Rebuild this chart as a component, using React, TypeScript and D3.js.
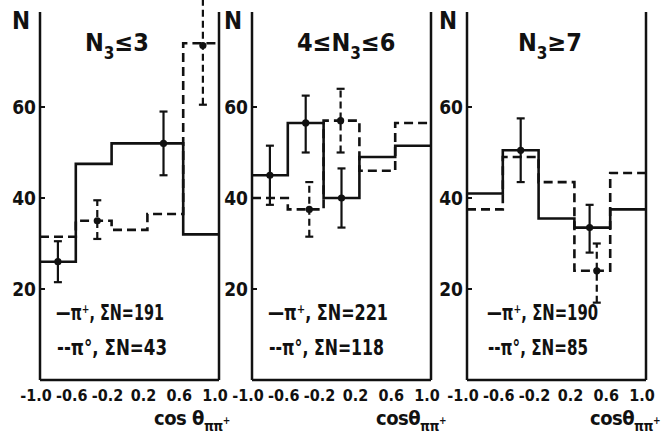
import * as d3 from "d3";

// bin edges of cos(theta) and tick labels
const binEdges = [-1.0, -0.6, -0.2, 0.2, 0.6, 1.0];
const xTickLabels = ["-1.0", "-0.6", "-0.2", "0.2", "0.6", "1.0"];
const yTicks = [20, 40, 60];

// N3 <= 3
const plusCounts1 = [26, 47.5, 52, 52, 32];
const zeroCounts1 = [31.5, 35, 33, 36.5, 74];
const plusErr1 = [
  { x: -0.8, y: 26, lo: 21.5, hi: 30.5 },
  { x: 0.38, y: 52, lo: 45, hi: 59 },
];
const zeroErr1 = [
  { x: -0.36, y: 35, lo: 31, hi: 39.5 },
  { x: 0.82, y: 73.5, lo: 60.5, hi: 84 },
];

// 4 <= N3 <= 6
const plusCounts2 = [45, 56.5, 40, 49, 51.5];
const zeroCounts2 = [40, 37.5, 57, 46, 56.5];
const plusErr2 = [
  { x: -0.8, y: 45, lo: 38.5, hi: 51.5 },
  { x: -0.4, y: 56.5, lo: 50, hi: 62.5 },
  { x: 0.0, y: 40, lo: 33.5, hi: 46.5 },
];
const zeroErr2 = [
  { x: -0.36, y: 37.5, lo: 31.5, hi: 43.5 },
  { x: -0.01, y: 57, lo: 50, hi: 64 },
];

// N3 >= 7
const plusCounts3 = [41, 50.5, 35.5, 33.5, 37.5];
const zeroCounts3 = [37.5, 49, 43.5, 24, 45.5];
const plusErr3 = [
  { x: -0.4, y: 50.5, lo: 43.5, hi: 57.5 },
  { x: 0.37, y: 33.5, lo: 28, hi: 38.5 },
];
const zeroErr3 = [{ x: 0.45, y: 24, lo: 17, hi: 30 }];

const titleParts = [
  ["N", "3", "≤3"],
  ["4≤N", "3", "≤6"],
  ["N", "3", "≥7"],
];
const plusTotals = [191, 221, 190];
const zeroTotals = [43, 118, 85];

const panels = [
  { plus: plusCounts1, zero: zeroCounts1, plusErr: plusErr1, zeroErr: zeroErr1 },
  { plus: plusCounts2, zero: zeroCounts2, plusErr: plusErr2, zeroErr: zeroErr2 },
  { plus: plusCounts3, zero: zeroCounts3, plusErr: plusErr3, zeroErr: zeroErr3 },
];

// layout only
const W = 665;
const H = 438;
const panelLeft = [40, 252, 467];
const panelWidth = 179;
const titleX = [85, 297, 518];
const legendX = [56, 268, 487];
const legendLen1 = [108, 120, 111];
const legendLen2 = [110, 115, 100];
const axisLabelDx = [-65, -55, -56];
const font = "'DejaVu Sans Condensed', 'Liberation Sans Narrow', sans-serif";
const ink = "#111";

type Err = { x: number; y: number; lo: number; hi: number };

function Panel({ i }: { i: number }) {
  const p = panels[i];
  const left = panelLeft[i];
  const right = left + panelWidth;
  const x = d3.scaleLinear().domain([-1, 1]).range([left, right]);
  const y = d3.scaleLinear().domain([0, 80]).range([380, 16]);
  const step = d3
    .line<number>()
    .x((_, k) => x(binEdges[k]))
    .y((v) => y(v))
    .curve(d3.curveStepAfter);
  const hist = (vals: number[]) => step([...vals, vals[vals.length - 1]]) || "";

  const errBars = (errs: Err[], dashed: boolean) =>
    errs.map((e, k) => {
      const top = Math.max(y(e.hi), 0);
      return (
        <g key={k}>
          <line
            x1={x(e.x)}
            x2={x(e.x)}
            y1={y(e.lo)}
            y2={top}
            stroke={ink}
            strokeWidth={2.2}
            strokeDasharray={dashed ? "7,4" : undefined}
          />
          <line x1={x(e.x) - 4} x2={x(e.x) + 4} y1={y(e.lo)} y2={y(e.lo)} stroke={ink} strokeWidth={2.2} />
          {e.hi <= 80 && (
            <line x1={x(e.x) - 4} x2={x(e.x) + 4} y1={y(e.hi)} y2={y(e.hi)} stroke={ink} strokeWidth={2.2} />
          )}
          <circle cx={x(e.x)} cy={y(e.y)} r={3.6} fill={ink} />
        </g>
      );
    });

  return (
    <g fontFamily={font} fontWeight="bold" fill={ink}>
      {/* frame */}
      <line x1={left} x2={left} y1={12} y2={y(0)} stroke={ink} strokeWidth={2.5} />
      <line x1={right} x2={right} y1={12} y2={y(0)} stroke={ink} strokeWidth={2.5} />
      <line x1={left} x2={right} y1={y(0)} y2={y(0)} stroke={ink} strokeWidth={2.5} />
      <text x={left - 28} y={29} fontSize={24}>
        N
      </text>
      {yTicks.map((t) => (
        <g key={t}>
          <line x1={left} x2={left + 5} y1={y(t)} y2={y(t)} stroke={ink} strokeWidth={2} />
          <text x={left - 4} y={y(t)} dy="0.36em" fontSize={19} textAnchor="end">
            {t}
          </text>
        </g>
      ))}
      {binEdges.map((b, k) => (
        <text key={k} x={x(b) - 4} y={401} fontSize={16} textAnchor="middle">
          {xTickLabels[k]}
        </text>
      ))}
      <text x={right + axisLabelDx[i]} y={425} fontSize={20} letterSpacing={-0.5}>
        {i === 0 ? "cos θ" : "cosθ"}
        <tspan dy={6} fontSize={14}>ππ</tspan>
        <tspan dy={-7} fontSize={10}>+</tspan>
      </text>

      {/* title */}
      <text x={titleX[i]} y={51} fontSize={25}>
        {titleParts[i][0]}
        <tspan dy={8} fontSize={17}>{titleParts[i][1]}</tspan>
        <tspan dy={-8}>{titleParts[i][2]}</tspan>
      </text>

      {/* histograms */}
      <path d={hist(p.plus)} fill="none" stroke={ink} strokeWidth={2.6} />
      <path d={hist(p.zero)} fill="none" stroke={ink} strokeWidth={2.6} strokeDasharray="9,5" />
      {errBars(p.plusErr, false)}
      {errBars(p.zeroErr, true)}

      {/* legend */}
      <text x={legendX[i]} y={320} fontSize={22} textLength={legendLen1[i]} lengthAdjust="spacingAndGlyphs">
        {`—π⁺, ΣN=${plusTotals[i]}`}
      </text>
      <text x={legendX[i] + 1} y={355} fontSize={22} textLength={legendLen2[i]} lengthAdjust="spacingAndGlyphs">
        {`--π°, ΣN=${zeroTotals[i]}`}
      </text>
    </g>
  );
}

export default function App() {
  return (
    <svg
      width={W}
      height={H}
      style={{ position: "absolute", left: 0, top: 0, background: "#fff" }}
    >
      {panels.map((_, i) => (
        <Panel key={i} i={i} />
      ))}
    </svg>
  );
}
